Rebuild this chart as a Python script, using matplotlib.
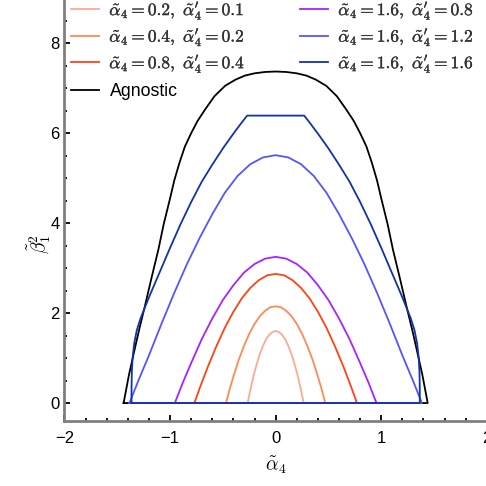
import matplotlib.pyplot as plt
import matplotlib.patheffects as pe
from matplotlib.legend import Legend

plt.rcParams['mathtext.fontset'] = 'cm'
plt.rcParams['font.family'] = ['Liberation Sans', 'DejaVu Sans']

# boundaries of the allowed regions (each closed with the y=0 base)
x_pink = [-0.265, -0.255, -0.235, -0.21, -0.18, -0.15, -0.12, -0.09, -0.06, -0.03, 0.0,
          0.03, 0.06, 0.09, 0.12, 0.15, 0.18, 0.21, 0.235, 0.255, 0.265, -0.265]
y_pink = [0.0, 0.12, 0.34, 0.60, 0.86, 1.09, 1.27, 1.42, 1.52, 1.58, 1.60,
          1.58, 1.52, 1.42, 1.27, 1.09, 0.86, 0.60, 0.34, 0.12, 0.0, 0.0]

x_orange = [-0.47, -0.44, -0.4, -0.35, -0.3, -0.25, -0.2, -0.15, -0.1, -0.05, 0.0,
            0.05, 0.1, 0.15, 0.2, 0.25, 0.3, 0.35, 0.4, 0.44, 0.47, -0.47]
y_orange = [0.0, 0.27, 0.59, 0.96, 1.27, 1.54, 1.76, 1.93, 2.05, 2.13, 2.15,
            2.13, 2.05, 1.93, 1.76, 1.54, 1.27, 0.96, 0.59, 0.27, 0.0, 0.0]

x_red = [-0.77, -0.71, -0.64, -0.56, -0.48, -0.4, -0.32, -0.24, -0.16, -0.08, 0.0,
         0.08, 0.16, 0.24, 0.32, 0.4, 0.48, 0.56, 0.64, 0.71, 0.77, -0.77]
y_red = [0.0, 0.39, 0.82, 1.27, 1.68, 2.03, 2.33, 2.56, 2.73, 2.84, 2.87,
         2.84, 2.73, 2.56, 2.33, 2.03, 1.68, 1.27, 0.82, 0.39, 0.0, 0.0]

x_purple = [-0.955, -0.88, -0.8, -0.7, -0.6, -0.5, -0.4, -0.3, -0.2, -0.1, 0.0,
            0.1, 0.2, 0.3, 0.4, 0.5, 0.6, 0.7, 0.8, 0.88, 0.955, -0.955]
y_purple = [0.0, 0.45, 0.89, 1.42, 1.88, 2.29, 2.62, 2.90, 3.09, 3.21, 3.25,
            3.21, 3.09, 2.90, 2.62, 2.29, 1.88, 1.42, 0.89, 0.45, 0.0, 0.0]

x_lblue = [-1.385, -1.3, -1.2, -1.08, -0.96, -0.84, -0.72, -0.6, -0.48, -0.36, -0.24, -0.12, 0.0,
           0.12, 0.24, 0.36, 0.48, 0.6, 0.72, 0.84, 0.96, 1.08, 1.2, 1.3, 1.385, -1.385]
y_lblue = [0.0, 0.50, 1.06, 1.77, 2.45, 3.09, 3.67, 4.20, 4.68, 5.05, 5.31, 5.46, 5.51,
           5.46, 5.31, 5.05, 4.68, 4.20, 3.67, 3.09, 2.45, 1.77, 1.06, 0.50, 0.0, 0.0]

x_dblue = [-1.365, -1.365, -1.362, -1.355, -1.34, -1.315, -1.28, -1.2, -1.1, -1.0, -0.9, -0.8,
           -0.7, -0.6, -0.5, -0.4, -0.32, -0.27, 0.27, 0.32, 0.4, 0.5, 0.6, 0.7, 0.8, 0.9, 1.0,
           1.1, 1.2, 1.28, 1.315, 1.34, 1.355, 1.362, 1.365, 1.365, -1.365]
y_dblue = [0.0, 0.35, 0.7, 1.0, 1.32, 1.62, 1.88, 2.35, 2.90, 3.45, 3.98, 4.47,
           4.92, 5.30, 5.66, 5.99, 6.24, 6.39, 6.39, 6.24, 5.99, 5.66, 5.30, 4.92, 4.47, 3.98, 3.45,
           2.90, 2.35, 1.88, 1.62, 1.32, 1.0, 0.7, 0.35, 0.0, 0.0]

x_agn = [-1.44, -1.39, -1.33, -1.29, -1.24, -1.18, -1.11, -1.06, -1.0, -0.96, -0.91, -0.86, -0.8,
         -0.74, -0.67, -0.58, -0.48, -0.38, -0.29, -0.2, -0.1, 0.0,
         0.1, 0.2, 0.29, 0.38, 0.48, 0.58, 0.67, 0.74, 0.8, 0.86, 0.91, 0.96, 1.0, 1.06,
         1.11, 1.18, 1.24, 1.29, 1.33, 1.39, 1.44, -1.44]
y_agn = [0.0, 0.62, 1.25, 1.66, 2.14, 2.74, 3.42, 3.98, 4.55, 4.95, 5.35, 5.70, 6.0,
         6.27, 6.52, 6.82, 7.05, 7.19, 7.28, 7.33, 7.36, 7.37,
         7.36, 7.33, 7.28, 7.19, 7.05, 6.82, 6.52, 6.27, 6.0, 5.70, 5.35, 4.95, 4.55, 3.98,
         3.42, 2.74, 2.14, 1.66, 1.25, 0.62, 0.0, 0.0]

labels = [r'$\tilde{\alpha}_4=\mathbf{0.2},\ \tilde{\alpha}^\prime_4=\mathbf{0.1}$',
          r'$\tilde{\alpha}_4=\mathbf{0.4},\ \tilde{\alpha}^\prime_4=\mathbf{0.2}$',
          r'$\tilde{\alpha}_4=\mathbf{0.8},\ \tilde{\alpha}^\prime_4=\mathbf{0.4}$',
          r'$\tilde{\alpha}_4=\mathbf{1.6},\ \tilde{\alpha}^\prime_4=\mathbf{0.8}$',
          r'$\tilde{\alpha}_4=\mathbf{1.6},\ \tilde{\alpha}^\prime_4=\mathbf{1.2}$',
          r'$\tilde{\alpha}_4=\mathbf{1.6},\ \tilde{\alpha}^\prime_4=\mathbf{1.6}$',
          'Agnostic']
colors = ['#FBAA99', '#FF8A55', '#FF4411', '#AA22FF', '#5555FF', '#1133AA', 'black']

fig = plt.figure(figsize=(4.86, 4.86), dpi=100)
ax = fig.add_axes([0.1327, 0.1337, 0.869, 0.8663])

curves = [(x_pink, y_pink), (x_orange, y_orange), (x_red, y_red), (x_purple, y_purple),
          (x_lblue, y_lblue), (x_dblue, y_dblue), (x_agn, y_agn)]
zs = [3, 3, 3, 3, 3, 4, 2]
handles = []
for (xs, ys), c, lab, z in zip(curves, colors, labels, zs):
    h, = ax.plot(xs, ys, color=c, lw=1.3, label=lab, zorder=z)
    handles.append(h)

ax.set_xlim(-2, 2)
ax.set_ylim(-0.4, 8.96)
ax.set_xticks([-2, -1, 0, 1, 2])
ax.set_yticks([0, 2, 4, 6, 8])
ax.set_xticks([i * 0.2 - 2 for i in range(21)], minor=True)
ax.set_yticks([i * 0.5 for i in range(18)], minor=True)
ax.tick_params(which='both', direction='in', color='black', labelsize=12, width=1.3)
ax.tick_params(which='major', length=4)
ax.tick_params(which='minor', length=2.5)
ax.tick_params(axis='x', pad=7)
for s in ['top', 'right']:
    ax.spines[s].set_visible(False)
for s in ['left', 'bottom']:
    ax.spines[s].set_color('#808080')
    ax.spines[s].set_linewidth(2)

ax.set_xlabel(r'$\tilde{\alpha}_4$', fontsize=14, labelpad=6)
ax.set_ylabel(r'$\tilde{\beta}_1^2$', fontsize=14)
ax.yaxis.set_label_coords(-0.027, 0.42)

leg_kw = dict(loc='upper left', frameon=False, fontsize=12.5, handlelength=1.6,
              handletextpad=0.6, labelspacing=0.2, borderpad=0, borderaxespad=0,
              bbox_transform=fig.transFigure)
bold = [pe.withStroke(linewidth=0.25, foreground='#333333')]

left = [0, 1, 2]
leg1 = ax.legend([handles[i] for i in left], [labels[i] for i in left],
                 bbox_to_anchor=(71 / 486, 1 + 1 / 486), **leg_kw)
right = [3, 4, 5]
leg2 = Legend(ax, [handles[i] for i in right], [labels[i] for i in right],
              bbox_to_anchor=(300 / 486, 1 + 1 / 486), **leg_kw)
ax.add_artist(leg2)
for lg in (leg1, leg2):
    for t in lg.get_texts():
        t.set_color('#333333')
        t.set_path_effects(bold)

agn_kw = dict(leg_kw, fontsize=12.8, handlelength=1.6)
leg3 = Legend(ax, [handles[6]], [labels[6]], bbox_to_anchor=(71 / 486, 1 - 83 / 486), **agn_kw)
ax.add_artist(leg3)

fig.savefig('out.png', dpi=100)
